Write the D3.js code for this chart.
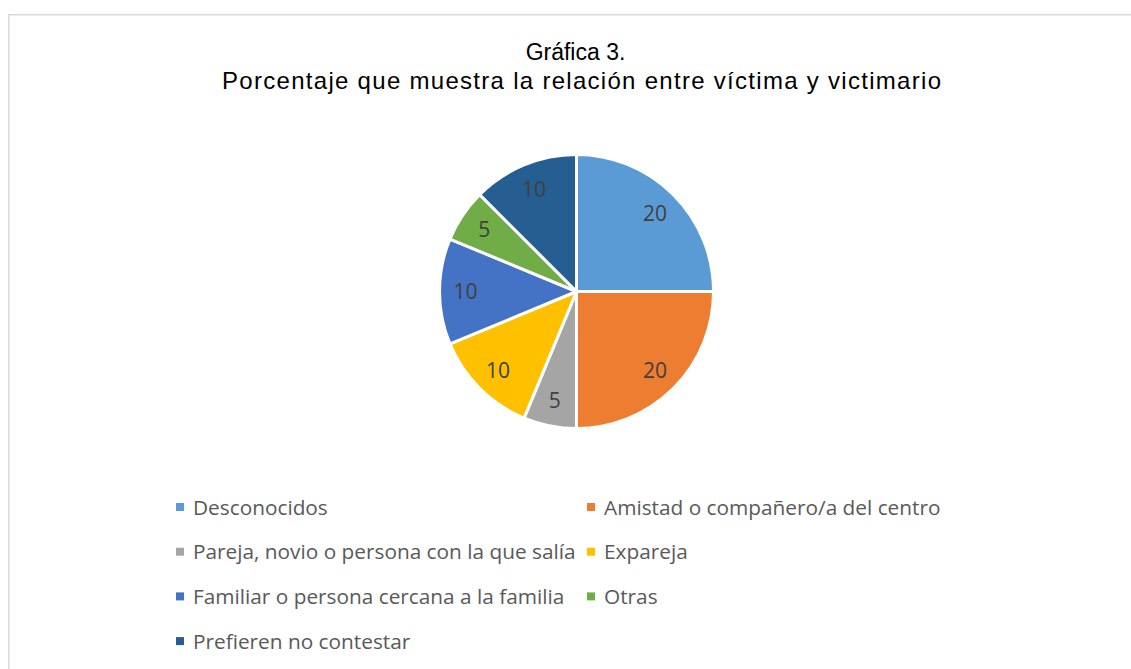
<!DOCTYPE html>
<html>
<head>
<meta charset="utf-8">
<script src="https://cdn.jsdelivr.net/npm/d3@7"></script>
<style>
  body { margin: 0; background: #fff; }
  svg { display: block; }
</style>
</head>
<body>
<div id="chart"></div>
<script>
// chart data
var categories = ["Desconocidos", "Amistad o compañero/a del centro",
  "Pareja, novio o persona con la que salía", "Expareja",
  "Familiar o persona cercana a la familia", "Otras", "Prefieren no contestar"];
var values = [20, 20, 5, 10, 10, 5, 10];
var colors = ["#5B9BD5", "#ED7D31", "#A5A5A5", "#FFC000", "#4472C4", "#70AD47", "#255E91"];
var titleLines = ["Gráfica 3.", "Porcentaje que muestra la relación entre víctima y victimario"];

var width = 1131,
    height = 669;

var cx = 576.5, cy = 291.5, radius = 137;

var svg = d3.select("#chart").append("svg")
    .attr("width", width)
    .attr("height", height);

// chart frame (only top and left edges visible in crop)
svg.append("rect")
    .attr("x", 8.75).attr("y", 14.75)
    .attr("width", 1200).attr("height", 800)
    .attr("fill", "none")
    .attr("stroke", "#d9d9d9")
    .attr("stroke-width", 1.5);

// title
var title = svg.append("g")
    .style("font-family", "'Liberation Sans', Arial, sans-serif")
    .style("fill", "#000");

title.append("text")
    .attr("x", 575.5).attr("y", 60)
    .attr("text-anchor", "middle")
    .style("font-size", "23px")
    .text(titleLines[0]);

title.append("text")
    .attr("x", 222).attr("y", 89)
    .attr("textLength", 719)
    .attr("lengthAdjust", "spacing")
    .style("font-size", "24px")
    .text(titleLines[1]);

var pie = d3.pie().sort(null).value(function(d) { return d; });
var arcs = pie(values);

var arc = d3.arc().innerRadius(0).outerRadius(radius);
var labelArc = d3.arc().innerRadius(radius * 0.81).outerRadius(radius * 0.81);

var g = svg.append("g").attr("transform", "translate(" + cx + "," + cy + ")");

g.selectAll("path")
    .data(arcs)
  .enter().append("path")
    .attr("d", arc)
    .attr("fill", function(d, i) { return colors[i]; })
    .attr("stroke", "#fff")
    .attr("stroke-width", 3)
    .attr("stroke-linejoin", "round");

g.selectAll("text")
    .data(arcs)
  .enter().append("text")
    .attr("transform", function(d) { return "translate(" + labelArc.centroid(d) + ")"; })
    .attr("text-anchor", "middle")
    .attr("dy", "0.36em")
    .style("font-family", "'Open Sans', sans-serif")
    .style("font-size", "21px")
    .style("fill", "#404040")
    .text(function(d) { return d.value; });

// legend, two columns
var legendCols = [176, 587];
var legend = svg.append("g").selectAll("g")
    .data(categories)
  .enter().append("g")
    .attr("transform", function(d, i) {
      return "translate(" + legendCols[i % 2] + "," + (507 + Math.floor(i / 2) * 44.7) + ")";
    });

legend.append("rect")
    .attr("x", 0).attr("y", -4)
    .attr("width", 8).attr("height", 8)
    .attr("fill", function(d, i) { return colors[i]; });

legend.append("text")
    .attr("x", 17)
    .attr("dy", "0.36em")
    .style("font-family", "'Open Sans', sans-serif")
    .style("font-size", "20.8px")
    .style("fill", "#595959")
    .text(function(d) { return d; });
</script>
</body>
</html>
